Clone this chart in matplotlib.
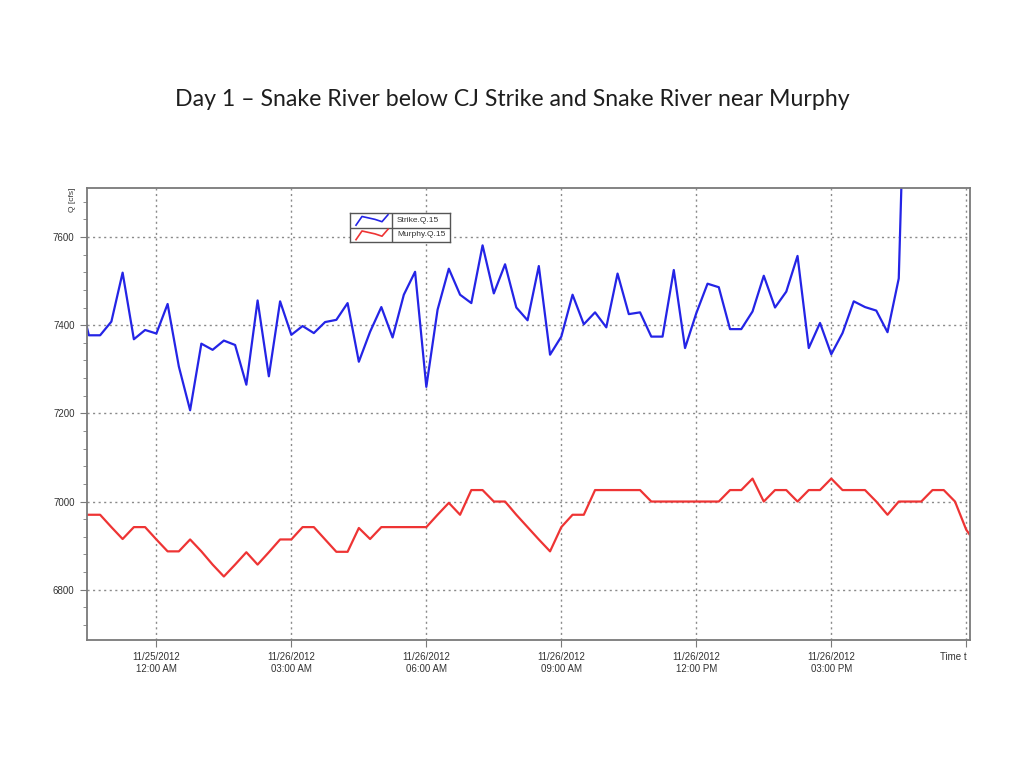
import numpy as np
import pandas as pd
import matplotlib
matplotlib.use('Agg')
import matplotlib.pyplot as plt

# 15-min discharge readings (cfs)
strike_q = [7480, 7377, 7377, 7408, 7519, 7368, 7389,
            7381, 7448, 7306, 7207, 7358, 7344, 7365, 7355, 7265, 7456, 7284, 7454,
            7378, 7398, 7382, 7407, 7412, 7450, 7317, 7385, 7441, 7372, 7469, 7521,
            7260, 7435, 7528, 7469, 7450, 7581, 7472, 7538, 7440, 7411, 7534, 7333,
            7374, 7469, 7402, 7429, 7395, 7517, 7425, 7429, 7374, 7374, 7525, 7348,
            7427, 7494, 7486, 7391, 7391, 7431, 7512, 7440, 7476, 7557, 7348, 7405,
            7334, 7382, 7454, 7441, 7433, 7384, 7506, 8400]
murphy_q = [6970, 6970, 6970, 6942, 6915, 6942, 6942,
            6914, 6887, 6887, 6914, 6887, 6857, 6830, 6857, 6885, 6857, 6885, 6914,
            6914, 6942, 6942, 6914, 6886, 6886, 6940, 6915, 6942, 6942, 6942, 6942,
            6942, 6970, 6997, 6970, 7026, 7026, 7000, 7000, 6970, 6942, 6914, 6887,
            6942, 6970, 6970, 7026, 7026, 7026, 7026, 7026, 7000, 7000, 7000, 7000,
            7000, 7000, 7000, 7026, 7026, 7052, 7000, 7026, 7026, 7000, 7026, 7026,
            7052, 7026, 7026, 7026, 7000, 6970, 7000, 7000, 7000, 7026, 7026, 7000,
            6936, 6900]

strike_t = pd.date_range('2012-11-25 22:15', periods=len(strike_q), freq='15min')
murphy_t = pd.date_range('2012-11-25 22:15', periods=len(murphy_q), freq='15min')

tick_times = pd.date_range('2012-11-26 00:00', periods=7, freq='3h')
tick_labels = ['11/25/2012\n12:00 AM', '11/26/2012\n03:00 AM', '11/26/2012\n06:00 AM',
               '11/26/2012\n09:00 AM', '11/26/2012\n12:00 PM', '11/26/2012\n03:00 PM',
               'Time t']
y_ticks = [6800, 7000, 7200, 7400, 7600]

blue = '#2424e6'
red = '#ee3434'

fig = plt.figure(figsize=(10.24, 7.68), dpi=100)
fig.text(0.5, 1 - 99 / 768, 'Day 1 – Snake River below CJ Strike and Snake River near Murphy',
         ha='center', va='center', fontsize=16.7, family='Lato', color='#1e1e1e')

ax = fig.add_axes([87 / 1024, 1 - 640 / 768, 883 / 1024, 452 / 768])
ax.plot(strike_t, strike_q, color=blue, lw=1.6)
ax.plot(murphy_t, murphy_q, color=red, lw=1.6)

ax.set_xlim(pd.Timestamp('2012-11-25 22:27:30'), pd.Timestamp('2012-11-26 18:05'))
ax.set_ylim(6686, 7711)

ax.set_yticks(y_ticks)
ax.set_yticklabels([str(v) for v in y_ticks])
ax.set_yticks(np.arange(6720, 7711, 40), minor=True)
ax.set_xticks(tick_times)
ax.set_xticklabels(tick_labels, va='top')
ax.get_xticklabels()[-1].set_ha('right')

ax.grid(True, which='major', linestyle=(0, (1.5, 2.5)), color='#8a8a8a', lw=1)
for s in ax.spines.values():
    s.set_color('#7a7a7a')
    s.set_linewidth(1.3)
ax.tick_params(which='major', direction='out', length=5, color='#7a7a7a',
               labelsize=7, labelcolor='#333333', pad=4)
ax.tick_params(which='minor', direction='out', length=3, color='#7a7a7a')
for lab in ax.get_xticklabels() + ax.get_yticklabels():
    lab.set_family('Liberation Sans')

fig.text(73 / 1024, 1 - 188 / 768, 'Q [cfs]', rotation=90, ha='center', va='top',
         fontsize=6, color='#333333', family='Liberation Sans')

# table-style legend
lg = ax.inset_axes([(350 - 87) / 883, (640 - 242) / 452, 100 / 883, 29 / 452])
lg.set_xlim(0, 1)
lg.set_ylim(0, 1)
lg.set_xticks([])
lg.set_yticks([])
for s in lg.spines.values():
    s.set_color('#555555')
    s.set_linewidth(1)
lg.axvline(0.42, color='#555555', lw=1)
lg.axhline(0.5, color='#555555', lw=1)
glyph_x = [0.06, 0.12, 0.25, 0.32, 0.38]
glyph_y = [0.0, 0.3, 0.2, 0.12, 0.36]
lg.plot(glyph_x, [0.58 + v for v in glyph_y], color=blue, lw=1.2)
lg.plot(glyph_x, [0.08 + v for v in glyph_y], color=red, lw=1.2)
lg.text(0.47, 0.75, 'Strike.Q.15', va='center', fontsize=6, color='#333333',
        family='Liberation Sans')
lg.text(0.47, 0.25, 'Murphy.Q.15', va='center', fontsize=6, color='#333333',
        family='Liberation Sans')

fig.savefig('out.png', dpi=100)
